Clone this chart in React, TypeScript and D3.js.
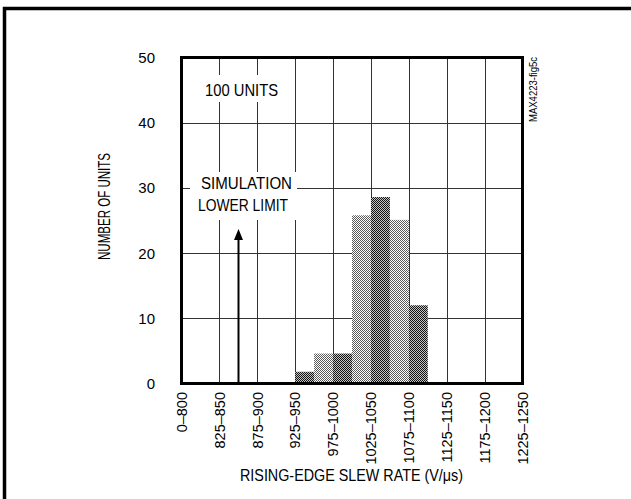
import React from "react";
import * as d3 from "d3";

const binStarts = [925, 950, 975, 1000, 1025, 1050, 1075];
const counts = [1.8, 4.6, 4.6, 25.8, 28.6, 25.1, 12];
const xTickValues = [775, 825, 875, 925, 975, 1025, 1075, 1125, 1175, 1225];
const xTickLabels = ["0–800", "825–850", "875–900", "925–950", "975–1000", "1025–1050", "1075–1100", "1125–1150", "1175–1200", "1225–1250"];
const yTicks = [0, 10, 20, 30, 40, 50];
const binWidth = 25;
const limitValue = 849;

const W = 631, H = 499;
const left = 181.5, right = 522.5, top = 57.5, bottom = 383.5;
const FONT = "'Liberation Sans Narrow', 'Liberation Sans', Arial, sans-serif";

export default function App() {
  const x = d3.scaleLinear().domain([775, 1225]).range([left, right]);
  const y = d3.scaleLinear().domain([0, 50]).range([bottom, top]);
  const ax = Math.round(x(limitValue)) + 0.5;

  return (
    <svg width={W} height={H} style={{ position: "absolute", left: 0, top: 0, background: "#fff" }}>
      <defs>
        <pattern id="dark" width="2" height="2" patternUnits="userSpaceOnUse">
          <rect width="2" height="2" fill="#c4c4c4" />
          <rect x="0" y="0" width="1" height="1" fill="#111" />
          <rect x="1" y="1" width="1" height="1" fill="#111" />
        </pattern>
        <pattern id="light" width="2" height="2" patternUnits="userSpaceOnUse">
          <rect width="2" height="2" fill="#fff" />
          <rect x="0" y="0" width="1" height="1" fill="#5a5a5a" />
          <rect x="1" y="1" width="1" height="1" fill="#5a5a5a" />
        </pattern>
      </defs>
      {/* outer frame */}
      <rect x={4.5} y={8.5} width={700} height={600} fill="none" stroke="#000" strokeWidth={3.5} />

      {/* gridlines */}
      {yTicks.slice(1, -1).map((t) => (
        <line key={"h" + t} x1={left} x2={right} y1={Math.round(y(t)) + 0.5} y2={Math.round(y(t)) + 0.5} stroke="#333" strokeWidth={1} />
      ))}
      {xTickValues.slice(1, -1).map((t) => (
        <line key={"v" + t} y1={top} y2={bottom} x1={Math.round(x(t)) + 0.5} x2={Math.round(x(t)) + 0.5} stroke="#333" strokeWidth={1} />
      ))}

      {/* annotation boxes */}
      <rect x={200} y={75} width={83} height={27} fill="#fff" />
      <rect x={190} y={172} width={107} height={48} fill="#fff" />
      <text x={241.5} y={96} textAnchor="middle" fontFamily={FONT} fontSize={17} textLength={73} lengthAdjust="spacingAndGlyphs">100 UNITS</text>
      <text x={246.5} y={189} textAnchor="middle" fontFamily={FONT} fontSize={16} textLength={91} lengthAdjust="spacingAndGlyphs">SIMULATION</text>
      <text x={243} y={211} textAnchor="middle" fontFamily={FONT} fontSize={16} textLength={90} lengthAdjust="spacingAndGlyphs">LOWER LIMIT</text>

      {/* arrow */}
      <line x1={ax} x2={ax} y1={bottom} y2={236} stroke="#000" strokeWidth={2} />
      <path d={`M${ax},229 L${ax - 4.5},240 L${ax + 4.5},240 Z`} fill="#000" />

      {/* bars */}
      {binStarts.map((b, i) => (
        <rect
          key={b}
          x={x(b)}
          width={x(b + binWidth) - x(b)}
          y={y(counts[i])}
          height={y(0) - y(counts[i])}
          fill={i % 2 === 0 ? "url(#dark)" : "url(#light)"}
        />
      ))}

      {/* plot frame */}
      <rect x={left} y={top} width={right - left} height={bottom - top} fill="none" stroke="#000" strokeWidth={3} />

      {/* y ticks */}
      {yTicks.map((t) => (
        <text key={"yt" + t} x={155} y={y(t)} dy="0.36em" textAnchor="end" fontFamily={FONT} fontSize={15}>{t}</text>
      ))}
      {/* x ticks */}
      {xTickValues.map((t, i) => (
        <text key={"xt" + t} transform={`translate(${x(t)},392) rotate(-90)`} dy="0.36em" textAnchor="end" fontFamily={FONT} fontSize={14.5}>{xTickLabels[i]}</text>
      ))}

      <text transform="translate(104,206.5) rotate(-90)" dy="0.36em" textAnchor="middle" fontFamily={FONT} fontSize={17} textLength={107} lengthAdjust="spacingAndGlyphs">NUMBER OF UNITS</text>
      <text x={351.5} y={481} textAnchor="middle" fontFamily={FONT} fontSize={17} textLength={223} lengthAdjust="spacingAndGlyphs">RISING-EDGE SLEW RATE (V/μs)</text>
      <text transform="translate(533,89.5) rotate(-90)" dy="0.36em" textAnchor="middle" fontFamily={FONT} fontSize={10} textLength={65} lengthAdjust="spacingAndGlyphs">MAX4223-fig5c</text>
    </svg>
  );
}
